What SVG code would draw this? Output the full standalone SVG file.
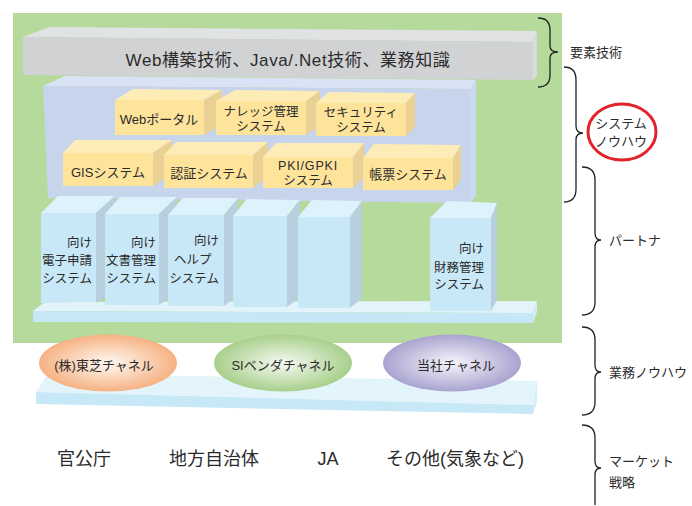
<svg xmlns="http://www.w3.org/2000/svg" width="692" height="506" viewBox="0 0 692 506">
<defs>
<style>
text{font-family:"Liberation Sans","Noto Sans CJK JP",sans-serif;fill:#2b2b2b}
.big{font-size:17px;letter-spacing:0.6px}
.box{font-size:13px;text-anchor:middle}
.box2{font-size:12.5px;text-anchor:middle}
.pil{font-size:12.5px;text-anchor:end}
.lab{font-size:13px}
.bot{font-size:18px;text-anchor:middle}
.gf{fill:#d1d2d4}.gt{fill:#e1e2e4}.gs{fill:#dadbde}
.yf{fill:#fee39b}.yt{fill:#feecb6}.ys{fill:#e9d195}
.pf{fill:#c8e8f7}.pt{fill:#ddf2fb}.ps{fill:#b8d0de}
.brace{fill:none;stroke:#222;stroke-width:1.3}
</style>
<radialGradient id="gOr"><stop offset="0" stop-color="#fffaf4"/><stop offset="1" stop-color="#f6b283"/></radialGradient>
<radialGradient id="gGr"><stop offset="0" stop-color="#f6faf2"/><stop offset="1" stop-color="#a8cf8b"/></radialGradient>
<radialGradient id="gPu"><stop offset="0" stop-color="#f6f5fb"/><stop offset="1" stop-color="#a9a4d0"/></radialGradient>
</defs>

<rect id="background" x="13" y="13" width="549" height="330" fill="#b6da9b"/>

<g id="tech-bar">
<polygon class="gt" points="23,37 50,27 537,31 533,42"/>
<polygon class="gf" points="23,37 533,42 533,80 23,75"/>
<polygon class="gs" points="533,42 537,31 537,76 533,80"/>
<text class="big" x="288" y="66" text-anchor="middle">Web構築技術、Java/.Net技術、業務知識</text>
</g>

<g id="system-panel">
<polygon fill="#d9e3f5" points="43,86 65,76 476,80 470,89"/>
<polygon fill="#c6d4ec" points="43,86 470,89 470,203 48,198"/>
<polygon fill="#cbd8ef" points="470,89 476,80 476,196 470,203"/>
</g>

<g id="web-portal">
<polygon class="yt" points="115,100 133,89 222,90 204,100"/>
<polygon class="yf" points="115,100 204,100 204,135 115,135"/>
<polygon class="ys" points="204,100 222,90 222,125 204,135"/>
<text class="box" x="159" y="124">Webポータル</text>
</g>
<g id="knowledge">
<polygon class="yt" points="216,101 235,90 320,91 306,101"/>
<polygon class="yf" points="216,101 306,101 306,135 216,135"/>
<polygon class="ys" points="306,101 320,91 320,126 306,135"/>
<text class="box2" x="261" y="116">ナレッジ管理</text>
<text class="box2" x="261" y="131">システム</text>
</g>
<g id="security">
<polygon class="yt" points="316,103 329,92 415,93 406,103"/>
<polygon class="yf" points="316,103 406,103 406,136 316,136"/>
<polygon class="ys" points="406,103 415,93 415,127 406,136"/>
<text class="box2" x="361" y="117">セキュリティ</text>
<text class="box2" x="361" y="132">システム</text>
</g>
<g id="gis">
<polygon class="yt" points="63,153 75,140 172,140 153,153"/>
<polygon class="yf" points="63,153 153,153 153,186 63,186"/>
<polygon class="ys" points="153,153 172,140 172,174 153,186"/>
<text class="box" x="108" y="177">GISシステム</text>
</g>
<g id="auth">
<polygon class="yt" points="164,155 176,142 268,142 253,155"/>
<polygon class="yf" points="164,155 253,155 253,188 164,188"/>
<polygon class="ys" points="253,155 268,142 268,176 253,188"/>
<text class="box" x="209" y="178">認証システム</text>
</g>
<g id="pki">
<polygon class="yt" points="263,157 276,143 364,143 353,157"/>
<polygon class="yf" points="263,157 353,157 353,188 263,188"/>
<polygon class="ys" points="353,157 364,143 364,177 353,188"/>
<text class="box2" x="308" y="170" letter-spacing="0.8">PKI/GPKI</text>
<text class="box2" x="308" y="185">システム</text>
</g>
<g id="form">
<polygon class="yt" points="363,158 374,144 461,145 453,158"/>
<polygon class="yf" points="363,158 453,158 453,190 363,190"/>
<polygon class="ys" points="453,158 461,145 461,180 453,190"/>
<text class="box" x="408" y="179">帳票システム</text>
</g>

<g id="shelf">
<polygon fill="#e2f3fa" points="33,311 45,302 537,301 533,313"/>
<polygon fill="#c6e7f6" points="33,311 533,313 533,323 33,322"/>
<polygon fill="#d2ecf8" points="533,313 537,301 537,312 533,323"/>
</g>

<g id="pillar-e-application">
<polygon class="pt" points="41,213 58,196 115,196 96,213"/>
<polygon class="ps" points="96,213 115,196 115,292 96,303"/>
<polygon class="pf" points="41,213 96,213 96,302 41,303"/>
<text class="pil" x="92" y="247">向け</text>
<text class="pil" x="92" y="265">電子申請</text>
<text class="pil" x="92" y="283">システム</text>
</g>
<g id="pillar-document">
<polygon class="pt" points="105,214 120,197 177,197 159,214"/>
<polygon class="ps" points="159,214 177,197 177,293 159,305"/>
<polygon class="pf" points="105,214 159,214 159,305 105,305"/>
<text class="pil" x="156" y="247">向け</text>
<text class="pil" x="156" y="265">文書管理</text>
<text class="pil" x="156" y="283">システム</text>
</g>
<g id="pillar-help">
<polygon class="pt" points="168,215 183,198 238,198 224,215"/>
<polygon class="ps" points="224,215 238,198 238,295 224,306"/>
<polygon class="pf" points="168,215 224,215 224,306 168,306"/>
<text class="pil" x="219" y="245">向け</text>
<text x="174" y="264" font-size="12.5">ヘルプ</text>
<text class="pil" x="219" y="283">システム</text>
</g>
<g id="pillar-4">
<polygon class="pt" points="233,216 247,199 300,200 287,216"/>
<polygon class="ps" points="287,216 300,200 300,297 287,307"/>
<polygon class="pf" points="233,216 287,216 287,307 233,307"/>
</g>
<g id="pillar-5">
<polygon class="pt" points="298,217 312,200 362,201 350,217"/>
<polygon class="ps" points="350,217 362,201 362,298 350,308"/>
<polygon class="pf" points="298,217 350,217 350,308 298,308"/>
</g>
<g id="pillar-finance">
<polygon class="pt" points="430,218 447,201 497,203 491,218"/>
<polygon class="ps" points="491,218 497,203 497,300 491,311"/>
<polygon class="pf" points="430,218 491,218 491,311 430,311"/>
<text class="pil" x="484" y="253">向け</text>
<text class="pil" x="484" y="272">財務管理</text>
<text class="pil" x="484" y="289">システム</text>
</g>

<g id="channel-platform">
<polygon fill="#e4f4fb" points="36,392 48,374 537,381 533,405"/>
<polygon fill="#c7e8f7" points="36,392 533,405 533,414 36,404"/>
<polygon fill="#d4eef9" points="533,405 537,381 537,402 533,414"/>
</g>

<g id="toshiba-channel">
<ellipse cx="108" cy="363" rx="69" ry="28.5" fill="url(#gOr)"/>
<text class="box" x="104" y="370">(株)東芝チャネル</text>
</g>
<g id="si-channel">
<ellipse cx="283" cy="363" rx="69" ry="28.5" fill="url(#gGr)"/>
<text class="box" x="283" y="370">SIベンダチャネル</text>
</g>
<g id="own-channel">
<ellipse cx="452" cy="363" rx="69" ry="28.5" fill="url(#gPu)"/>
<text class="box" x="456" y="370">当社チャネル</text>
</g>

<g id="markets">
<text class="bot" x="84" y="465">官公庁</text>
<text class="bot" x="214" y="465">地方自治体</text>
<text class="bot" x="328" y="465">JA</text>
<text class="bot" x="455" y="465">その他(気象など)</text>
</g>

<g id="connectors">
<path class="brace" d="M538,18 Q550,18 550,30 L550,46 Q550,52 558,52 Q550,52 550,58 L550,75 Q550,87 538,87"/>
<path class="brace" d="M564,67 Q576,67 576,80 L576,126 Q576,133 583,133 Q576,133 576,140 L576,189 Q576,202 564,202"/>
<path class="brace" d="M582,167 Q595,167 595,180 L595,233 Q595,240 601,240 Q595,240 595,247 L595,302 Q595,315 582,315"/>
<path class="brace" d="M582,327 Q595,327 595,340 L595,365 Q595,372 601,372 Q595,372 595,379 L595,402 Q595,415 582,415"/>
<path class="brace" d="M582,425 Q595,425 595,438 L595,461 Q595,468 601,468 Q595,468 595,475 L595,505"/>
</g>

<g id="labels">
<text class="lab" x="570" y="57">要素技術</text>
<g id="system-knowhow">
<ellipse cx="622" cy="132" rx="34" ry="28" fill="none" stroke="#e3232a" stroke-width="3"/>
<text class="lab" x="621" y="128" text-anchor="middle">システム</text>
<text class="lab" x="621" y="146" text-anchor="middle">ノウハウ</text>
</g>
<text class="lab" x="609" y="245">パートナ</text>
<text class="lab" x="609" y="377">業務ノウハウ</text>
<text class="lab" x="609" y="466">マーケット</text>
<text class="lab" x="609" y="487">戦略</text>
</g>
</svg>
